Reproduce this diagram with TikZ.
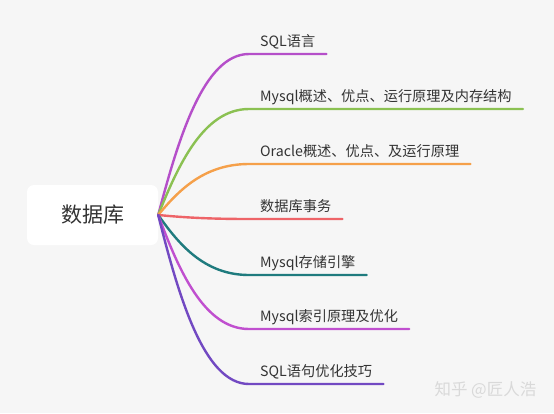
\documentclass[tikz,border=0pt]{standalone}
\usepackage{fontspec}
\setmainfont{Noto Sans CJK SC}
\usepackage{xcolor}
\usetikzlibrary{calc}

\definecolor{bgcol}{HTML}{F6F6F6}
\definecolor{txtcol}{HTML}{333333}
\definecolor{cSql}{HTML}{B54FC9}
\definecolor{cMysql}{HTML}{8BC152}
\definecolor{cOracle}{HTML}{F5A04A}
\definecolor{cTrans}{HTML}{EE6468}
\definecolor{cEngine}{HTML}{1F7B7E}
\definecolor{cIndex}{HTML}{C04FCF}
\definecolor{cStmt}{HTML}{7249C2}

\begin{document}
\begin{tikzpicture}[x=1pt,y=-1pt,
  leaf/.style={anchor=south west,inner xsep=11pt,inner ysep=4.5pt,text depth=3pt,
    font=\fontsize{14.2}{15}\selectfont,text=txtcol},
  branch/.style={draw=#1,line width=2.4pt,line cap=round,
    to path={let \p1=(\tikztostart.east), \p2=(\tikztotarget.south west) in
      (\p1) .. controls ($(\x1,\y1)+({0.22*(\x2-\x1)},{0.47*(\y2-\y1)})$)
      and ($(\x2,\y2)+({-0.5*(\x2-\x1)},0)$) .. (\p2) -- (\tikztotarget.south east)}}]
\fill[bgcol] (0,0) rectangle (554,413);
\useasboundingbox (0,0) rectangle (554,413);

\node[fill=white,rounded corners=7pt,minimum width=131pt,minimum height=60pt,
  font=\fontsize{21}{22}\selectfont,text=txtcol] (root) at (92.5,215) {数据库};

\node[leaf] (sql) at (249,54) {SQL语言};
\node[leaf] (mysql) at (249,109) {Mysql概述、优点、运行原理及内存结构};
\node[leaf] (oracle) at (249,164) {Oracle概述、优点、及运行原理};
\node[leaf] (trans) at (249,219) {数据库事务};
\node[leaf] (engine) at (249,275) {Mysql存储引擎};
\node[leaf] (index) at (249,329) {Mysql索引原理及优化};
\node[leaf] (stmt) at (249,384) {SQL语句优化技巧};

\path
(root) edge [branch=cSql] (sql)
       edge [branch=cMysql] (mysql)
       edge [branch=cOracle] (oracle)
       edge [branch=cTrans] (trans)
       edge [branch=cEngine] (engine)
       edge [branch=cIndex] (index)
       edge [branch=cStmt] (stmt);

% watermark
\node[anchor=west,font=\fontsize{16.5}{17}\selectfont,text=gray!30] (mark) at (431,390) {知乎 @匠人浩};
\end{tikzpicture}
\end{document}
